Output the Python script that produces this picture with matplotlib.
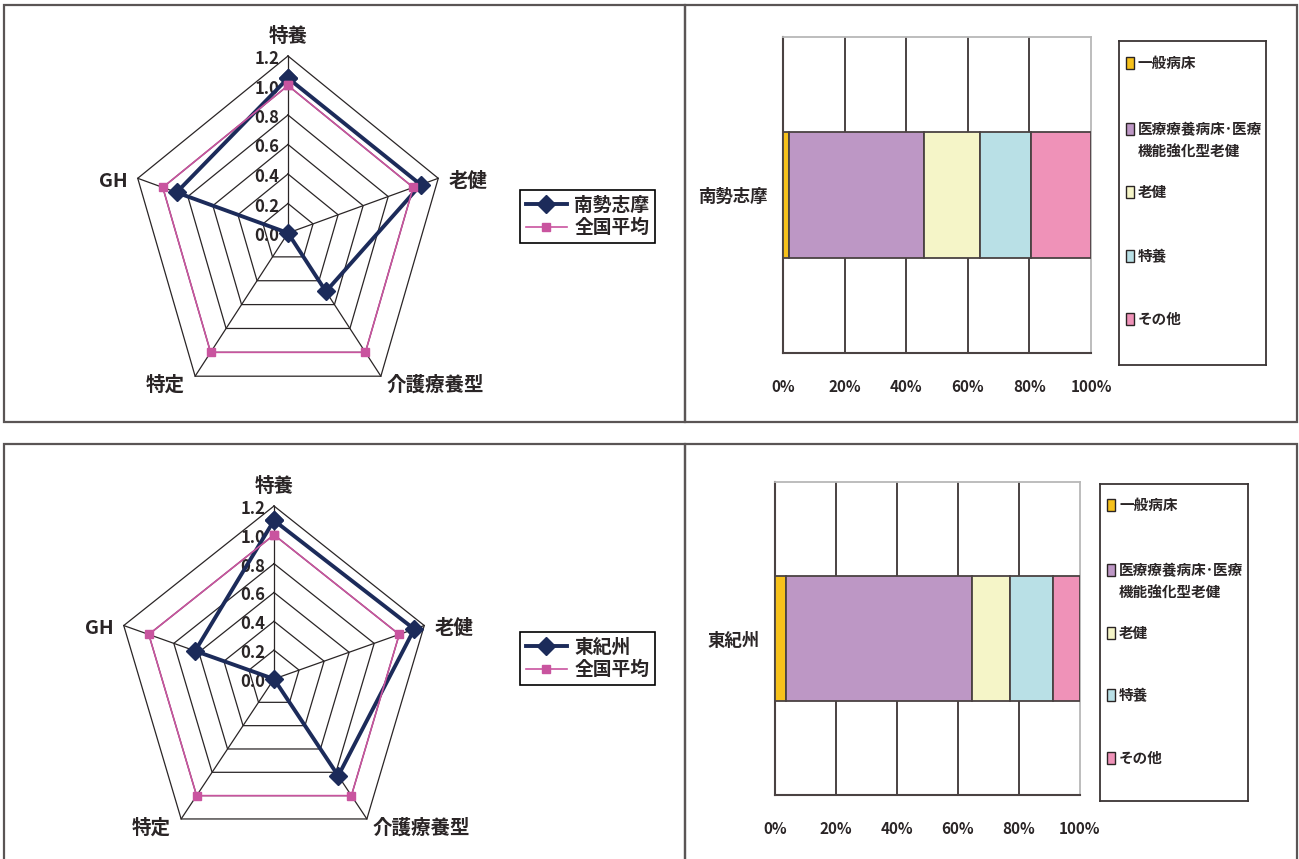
import numpy as np
import matplotlib
matplotlib.use("Agg")
import matplotlib.pyplot as plt
from matplotlib.patches import Rectangle

plt.rcParams['font.family'] = ['Noto Sans CJK JP', 'DejaVu Sans']
plt.rcParams['font.weight'] = 'bold'

# ---------------- data ----------------
radar_categories = ['特養', '老健', '介護療養型', '特定', 'GH']
region_top = '南勢志摩'
region_bottom = '東紀州'
national_label = '全国平均'
top_region_values = [1.05, 1.06, 0.49, 0.0, 0.89]
bottom_region_values = [1.10, 1.12, 0.83, 0.0, 0.63]
national_values = [1.0, 1.0, 1.0, 1.0, 1.0]
radar_ticks = [0.0, 0.2, 0.4, 0.6, 0.8, 1.0, 1.2]
radar_tick_labels = ['0.0', '0.2', '0.4', '0.6', '0.8', '1.0', '1.2']

bar_types = ['一般病床', '医療療養病床･医療\n機能強化型老健', '老健', '特養', 'その他']
top_bar_shares = [1.8, 44.1, 18.2, 16.4, 19.5]
bottom_bar_shares = [3.5, 61.2, 12.2, 14.4, 8.7]
bar_ticks = [0, 20, 40, 60, 80, 100]
bar_tick_labels = ['0%', '20%', '40%', '60%', '80%', '100%']

# ---------------- style ----------------
W, H = 1299, 859
TXT = '#2a2526'
NAVY = '#1c2b5a'
PINK = '#c9549f'
BAR_COLORS = ['#f6c11b', '#bd97c5', '#f5f5c8', '#b9e0e6', '#ef92b8']
EDGE = '#4a4242'
BORDER = '#5a5555'

fig = plt.figure(figsize=(W / 100, H / 100), dpi=100)
fig.patch.set_facecolor('white')


def fbox(x0, y0, x1, y1):
    """pixel box (top-left origin) -> figure fraction [l, b, w, h]"""
    return [x0 / W, 1 - y1 / H, (x1 - x0) / W, (y1 - y0) / H]


# panel borders
for (x0, y0, x1, y1) in [(4, 5, 685, 422), (685, 5, 1297, 422),
                         (4, 444, 685, 900), (685, 444, 1297, 900)]:
    l, b, w, h = fbox(x0, y0, x1, y1)
    fig.patches.append(Rectangle((l, b), w, h, transform=fig.transFigure,
                                 fill=False, edgecolor=BORDER, lw=1.6))


def radar(box, region, values, legend_xy):
    ax = fig.add_axes(fbox(*box), projection='polar')
    ax.set_aspect('auto')
    ax.set_theta_zero_location('N')
    ax.set_theta_direction(-1)
    ax.set_ylim(0, radar_ticks[-1])
    ax.axis('off')
    n = len(radar_categories)
    ang = np.linspace(0, 2 * np.pi, n, endpoint=False)
    ang_c = np.append(ang, ang[0])
    for r in radar_ticks[1:]:
        ax.plot(ang_c, [r] * (n + 1), color=TXT, lw=0.9, clip_on=False, zorder=1)
    for a in ang:
        ax.plot([a, a], [0, radar_ticks[-1]], color=TXT, lw=0.9, clip_on=False, zorder=1)
    for r, lab in zip(radar_ticks, radar_tick_labels):
        ax.annotate(lab, xy=(0, r), xytext=(-9, -3), textcoords='offset pixels',
                    ha='right', va='center', fontsize=12, color=TXT,
                    annotation_clip=False)
    offsets = [((0, 10), 'center', 'bottom'), ((10, -3), 'left', 'center'),
               ((6, -9), 'left', 'center'), ((-10, -9), 'right', 'center'),
               ((-10, -3), 'right', 'center')]
    for a, lab, (off, ha, va) in zip(ang, radar_categories, offsets):
        ax.annotate(lab, xy=(a, radar_ticks[-1]), xytext=off, textcoords='offset pixels',
                    ha=ha, va=va, fontsize=14, color=TXT, annotation_clip=False)
    v = list(values) + [values[0]]
    nv = list(national_values) + [national_values[0]]
    l1, = ax.plot(ang_c, v, color=NAVY, lw=2.8, marker='D', ms=9,
                  clip_on=False, zorder=3, label=region)
    l2, = ax.plot(ang_c, nv, color=PINK, lw=1.2, marker='s', ms=5.5,
                  clip_on=False, zorder=4, label=national_label)
    leg = ax.legend(handles=[l1, l2], loc='upper left',
                    bbox_to_anchor=(legend_xy[0] / W, 1 - legend_xy[1] / H),
                    bbox_transform=fig.transFigure, borderaxespad=0,
                    fontsize=13.5, frameon=True, fancybox=False, framealpha=1,
                    edgecolor='black', handlelength=2.2, handletextpad=0.4,
                    borderpad=0.3, labelspacing=0.2)
    leg.get_frame().set_linewidth(1.2)
    for t in leg.get_texts():
        t.set_color(TXT)


def bars(box, region, shares, leg_box, item_offsets):
    ax = fig.add_axes(fbox(*box))
    left = 0.0
    for s, c, lab in zip(shares, BAR_COLORS, bar_types):
        ax.barh([0], [s], left=left, height=0.4, color=c, edgecolor=EDGE,
                lw=1.3, label=lab, zorder=3)
        left += s
    ax.set_xlim(bar_ticks[0], bar_ticks[-1])
    ax.set_ylim(-0.5, 0.5)
    ax.set_xticks(bar_ticks)
    ax.set_xticklabels(bar_tick_labels, fontsize=11, color=TXT)
    ax.set_yticks([0])
    ax.set_yticklabels([region], fontsize=12.5, color=TXT)
    ax.tick_params(axis='x', length=0, pad=19)
    ax.tick_params(axis='y', length=0, pad=11)
    ax.xaxis.grid(True, color=EDGE, lw=1.4, zorder=0)
    ax.get_xgridlines()[-1].set_visible(False)
    ax.set_axisbelow(True)
    for side in ['left', 'bottom']:
        ax.spines[side].set_color(EDGE)
        ax.spines[side].set_linewidth(1.5)
    for side in ['top', 'right']:
        ax.spines[side].set_color('#b8b8b8')
        ax.spines[side].set_linewidth(1.3)
    # legend panel
    lx0, ly0, lx1, ly1 = leg_box
    lg = fig.add_axes(fbox(*leg_box))
    lg.set_xlim(0, lx1 - lx0)
    lg.set_ylim(ly1 - ly0, 0)
    lg.set_xticks([])
    lg.set_yticks([])
    for sp in lg.spines.values():
        sp.set_color('#3a3434')
        sp.set_linewidth(1.3)
    for off, c, lab in zip(item_offsets, BAR_COLORS, bar_types):
        lg.add_patch(Rectangle((7, off - 6), 8, 12, facecolor=c, edgecolor='#2a2424', lw=1.0))
        lg.text(19, off - 8, lab, ha='left', va='top', fontsize=10.5, color=TXT,
                linespacing=1.45)


radar((130, 56, 446, 410), region_top, top_region_values, (520, 190))
radar((116, 506, 432, 852), region_bottom, bottom_region_values, (520, 632))

bars((783, 37, 1091, 353), region_top, top_bar_shares,
     (1119, 41, 1266, 365), [22, 88, 151, 215, 278])
bars((775, 482, 1080, 795), region_bottom, bottom_bar_shares,
     (1100, 484, 1248, 801), [21, 86, 149, 211, 274])

fig.savefig('out.png', dpi=100)
